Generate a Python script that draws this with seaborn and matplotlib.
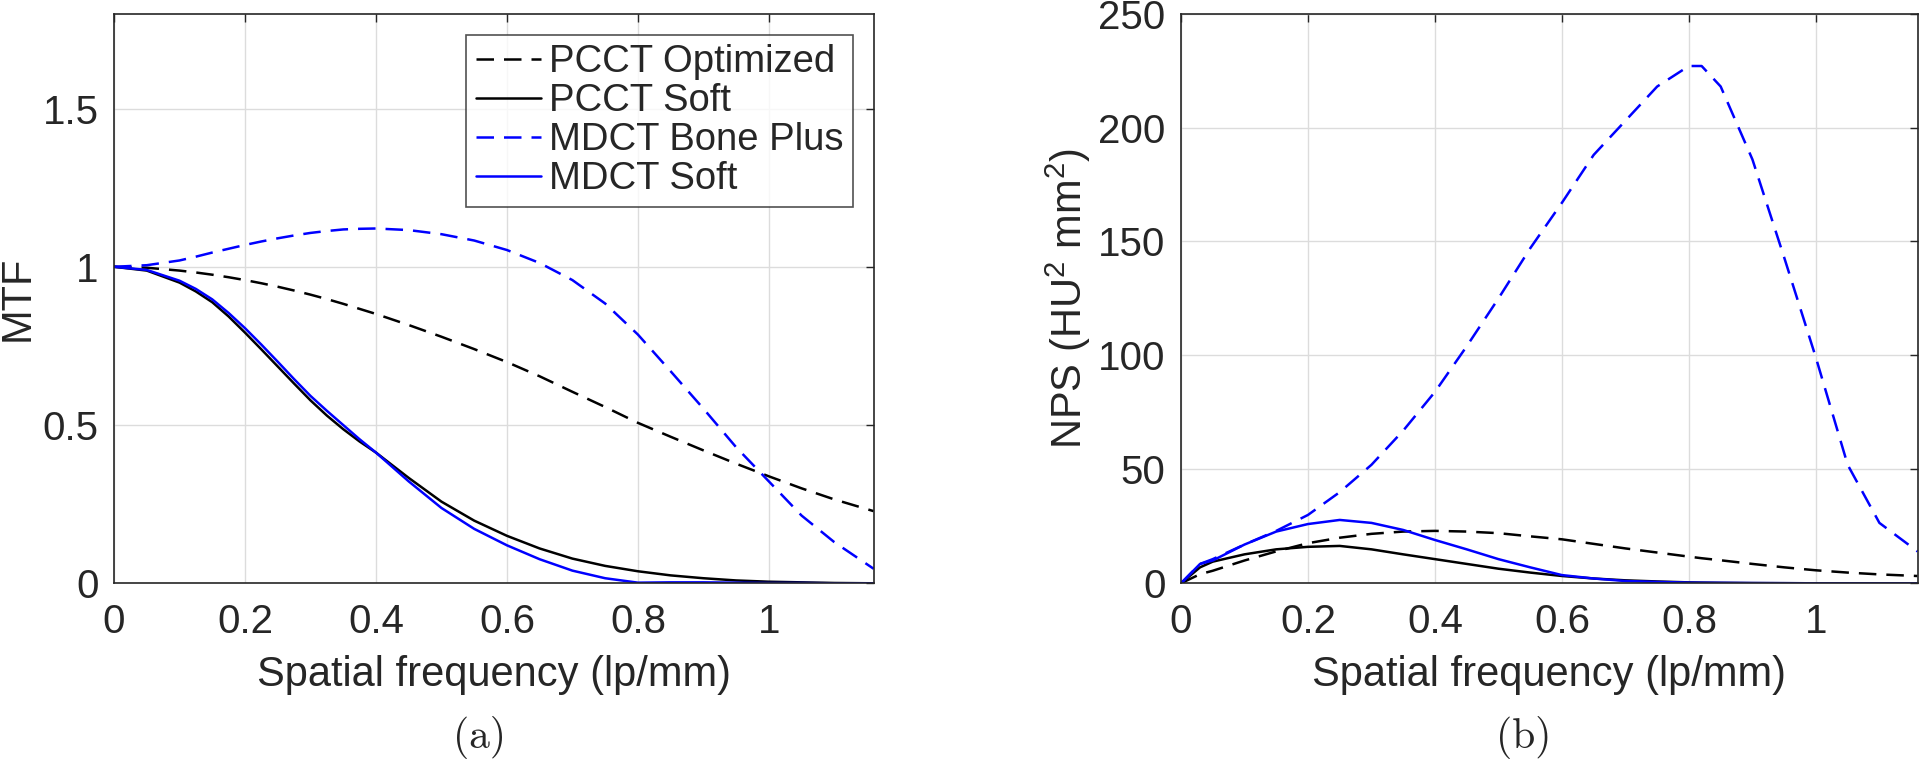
import numpy as np
import pandas as pd
import matplotlib
matplotlib.use('Agg')
import matplotlib.pyplot as plt
from matplotlib.ticker import FuncFormatter
import seaborn as sns

# spatial frequency grid (lp/mm)
freq = [0, 0.05, 0.1, 0.125, 0.15, 0.175, 0.2, 0.225, 0.25, 0.275, 0.3, 0.325, 0.35, 0.375,
        0.4, 0.45, 0.5, 0.55, 0.6, 0.65, 0.7, 0.75, 0.8, 0.85, 0.9, 0.95, 1.0, 1.05, 1.1, 1.16]

# MTF curves
mtf_pcct_opt = [1.000, 0.997, 0.988, 0.982, 0.975, 0.967, 0.958, 0.948, 0.937, 0.925, 0.912, 0.898,
                0.883, 0.867, 0.851, 0.816, 0.779, 0.740, 0.699, 0.654, 0.605, 0.557, 0.507, 0.463,
                0.420, 0.378, 0.338, 0.300, 0.265, 0.228]
mtf_pcct_soft = [1.000, 0.988, 0.950, 0.922, 0.888, 0.843, 0.792, 0.739, 0.685, 0.631, 0.578, 0.530,
                 0.487, 0.448, 0.413, 0.333, 0.258, 0.198, 0.150, 0.110, 0.078, 0.055, 0.038, 0.025,
                 0.016, 0.009, 0.005, 0.003, 0.001, 0.000]
mtf_mdct_bone = [1.000, 1.005, 1.020, 1.032, 1.045, 1.057, 1.069, 1.080, 1.090, 1.099, 1.107, 1.113,
                 1.118, 1.120, 1.121, 1.116, 1.103, 1.083, 1.053, 1.012, 0.958, 0.884, 0.786, 0.670,
                 0.552, 0.430, 0.322, 0.214, 0.130, 0.046]
mtf_mdct_soft = [1.000, 0.990, 0.956, 0.930, 0.897, 0.854, 0.806, 0.754, 0.700, 0.645, 0.592, 0.545,
                 0.500, 0.455, 0.413, 0.322, 0.238, 0.172, 0.120, 0.076, 0.040, 0.016, 0.002, 0.003,
                 0.003, 0.002, 0.001, 0.001, 0.000, 0.000]

# NPS curves (HU^2 mm^2)
nps_freq = [0, 0.03, 0.05, 0.1, 0.15, 0.2, 0.25, 0.3, 0.35, 0.4, 0.45, 0.5, 0.55, 0.6,
            0.65, 0.7, 0.75, 0.8, 0.82, 0.85, 0.9, 0.95, 1.0, 1.05, 1.1, 1.16]
nps_pcct_opt = [0, 4.0, 5.5, 10.0, 14.0, 17.6, 20.0, 21.7, 22.7, 23.0, 22.7, 22.0, 20.6, 19.3,
                17.3, 15.3, 13.5, 11.7, 11.0, 10.1, 8.5, 7.0, 5.7, 4.7, 3.9, 3.2]
nps_pcct_soft = [0, 7.0, 9.5, 12.7, 14.9, 16.0, 16.4, 14.9, 12.7, 10.6, 8.5, 6.4, 4.7, 3.2,
                 2.1, 1.3, 0.8, 0.4, 0.3, 0.2, 0.1, 0.05, 0, 0, 0, 0]
nps_mdct_bone = [0, 8.5, 10.6, 17.0, 23.0, 30.0, 40.0, 52.0, 67.0, 84.0, 104.0, 125.0, 147.0, 167.0,
                 188.0, 203.0, 218.0, 227.0, 227.0, 218.0, 186.0, 143.0, 99.0, 52.0, 26.5, 14.0]
nps_mdct_soft = [0, 8.5, 10.0, 17.0, 22.7, 26.0, 27.8, 26.5, 23.4, 19.0, 14.9, 10.6, 7.0, 3.6,
                 2.1, 1.0, 0.6, 0.3, 0.25, 0.2, 0.1, 0.05, 0, 0, 0, 0]

labels = ['PCCT Optimized', 'PCCT Soft', 'MDCT Bone Plus', 'MDCT Soft']
colors = ['black', 'black', '#0000ff', '#0000ff']
dashed = (0, (7, 4))
styles = [dashed, '-', dashed, '-']

mtf_df = pd.DataFrame({'freq': freq, labels[0]: mtf_pcct_opt, labels[1]: mtf_pcct_soft,
                       labels[2]: mtf_mdct_bone, labels[3]: mtf_mdct_soft})
nps_df = pd.DataFrame({'freq': nps_freq, labels[0]: nps_pcct_opt, labels[1]: nps_pcct_soft,
                       labels[2]: nps_mdct_bone, labels[3]: nps_mdct_soft})

sns.set_theme(style='white')
plt.rcParams['font.family'] = ['Liberation Sans', 'DejaVu Sans']
plt.rcParams['mathtext.fontset'] = 'custom'
plt.rcParams['mathtext.rm'] = 'Liberation Sans'
plt.rcParams['mathtext.it'] = 'Liberation Sans'

fig = plt.figure(figsize=(19.2, 7.59), dpi=100)
ax1 = fig.add_axes([0.0594, 0.2315, 0.3956, 0.7506])
ax2 = fig.add_axes([0.6151, 0.2315, 0.3836, 0.7506])

fmt = FuncFormatter(lambda v, p: '%g' % round(v, 6))

for ax, df in [(ax1, mtf_df), (ax2, nps_df)]:
    for lab, col, ls in zip(labels, colors, styles):
        sns.lineplot(data=df, x='freq', y=lab, ax=ax, color=col, linestyle=ls,
                     linewidth=1.8, label=lab, legend=False)
    ax.set_xlim(0, 1.16)
    ax.set_xticks([0, 0.2, 0.4, 0.6, 0.8, 1])
    ax.xaxis.set_major_formatter(fmt)
    ax.yaxis.set_major_formatter(fmt)
    ax.grid(True, color='#dcdcdc', linewidth=1)
    ax.set_axisbelow(True)
    for sp in ax.spines.values():
        sp.set_color('#262626')
        sp.set_linewidth(1.2)
    ax.tick_params(axis='both', direction='in', length=6, width=1, color='#262626',
                   labelsize=29, top=True, right=True, pad=11)
    ax.tick_params(axis='x', pad=14)
    ax.set_xlabel('Spatial frequency (lp/mm)', fontsize=30, labelpad=10)

ax1.set_ylim(0, 1.8)
ax1.set_yticks([0, 0.5, 1, 1.5])
ax1.set_ylabel('MTF', fontsize=30, labelpad=4)

ax2.set_ylim(0, 250)
ax2.set_yticks([0, 50, 100, 150, 200, 250])
ax2.set_ylabel('NPS (HU$^2$ mm$^2$)', fontsize=30, labelpad=4)

leg = ax1.legend(loc='upper right', fontsize=27.5, frameon=True, fancybox=False,
                 edgecolor='#262626', handlelength=1.7, handletextpad=0.2,
                 labelspacing=0.08, borderpad=0.25, borderaxespad=0.55)
leg.get_frame().set_linewidth(1.2)

fig.text(0.2495, 0.0, '(a)', family='cmr10', fontsize=30, ha='center', va='bottom')
fig.text(0.7937, 0.0, '(b)', family='cmr10', fontsize=30, ha='center', va='bottom')

fig.savefig('out.png', dpi=100)
